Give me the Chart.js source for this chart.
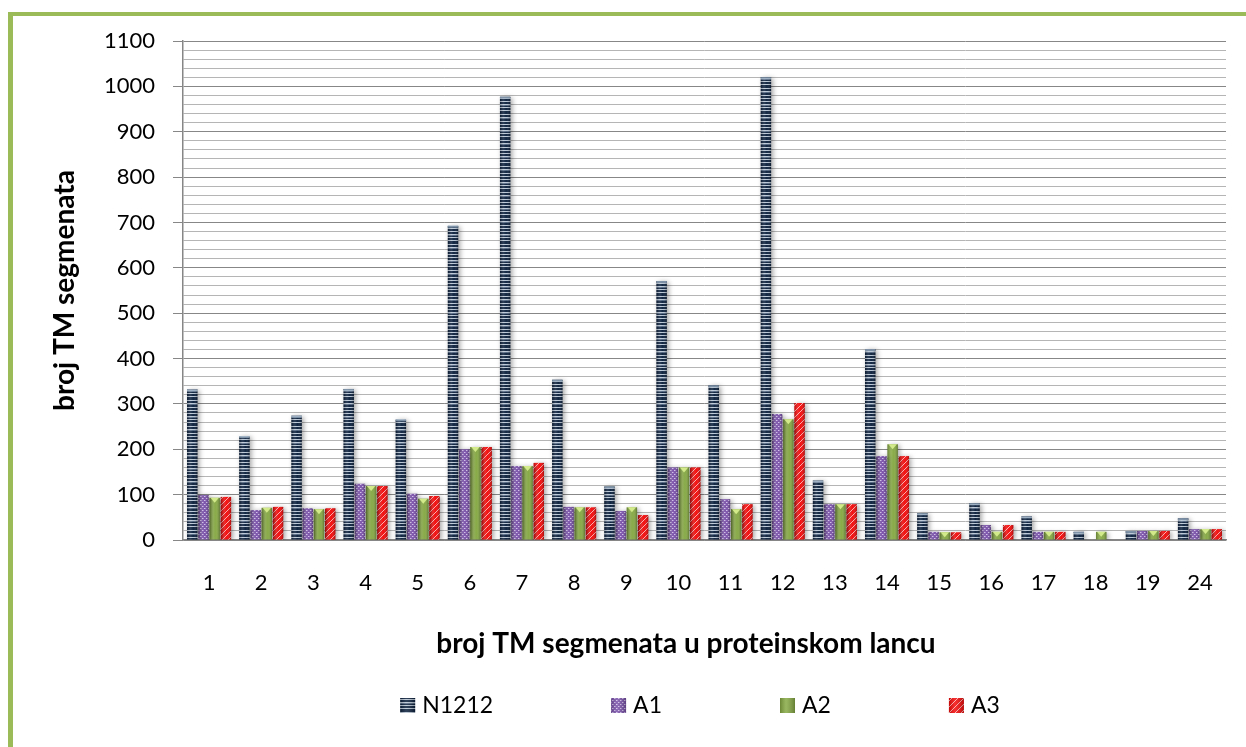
<!DOCTYPE html>
<html>
<head>
<meta charset="utf-8">
<title>broj TM segmenata</title>
<script src="https://cdn.jsdelivr.net/npm/chart.js@4/dist/chart.umd.min.js"></script>
<style>
  html, body { margin: 0; padding: 0; background: #fff; overflow: hidden; }
  #wrap { position: relative; width: 1246px; height: 747px; }
  #frame {
    position: absolute; left: 8px; top: 12px; right: -10px; bottom: -10px;
    border-left: 5px solid #9bbb59; border-top: 4px solid #9bbb59;
  }
  #chart { position: absolute; left: 0; top: 0; }
</style>
</head>
<body>
<div id="wrap">
  <div id="frame"></div>
  <canvas id="chart" width="1246" height="747"></canvas>
</div>
<script>
const categories = ['1', '2', '3', '4', '5', '6', '7', '8', '9', '10', '11', '12', '13', '14', '15', '16', '17', '18', '19', '24'];
const seriesNames = ['N1212', 'A1', 'A2', 'A3'];
const n1212 = [332, 229, 274, 333, 266, 693, 977, 353, 118, 571, 341, 1020, 131, 421, 59, 81, 52, 18, 20, 48];
const a1 = [99, 66, 70, 124, 102, 200, 163, 73, 64, 160, 90, 278, 79, 185, 18, 33, 18, 0, 20, 24];
const a2 = [93, 71, 68, 119, 91, 205, 163, 72, 72, 160, 68, 266, 79, 211, 17, 18, 18, 18, 20, 24];
const a3 = [95, 73, 70, 119, 97, 205, 170, 72, 55, 160, 79, 302, 79, 185, 17, 33, 18, 0, 20, 24];
const yTicks = [0, 100, 200, 300, 400, 500, 600, 700, 800, 900, 1000, 1100];

const yTitle = 'broj TM segmenata';
const xTitle = 'broj TM segmenata u proteinskom lancu';
const FONT = 'Lato, "Open Sans", sans-serif';

// small canvas tiles used as bar fills
function tile(w, h, draw) {
  const c = document.createElement('canvas');
  c.width = w; c.height = h;
  const g = c.getContext('2d');
  draw(g);
  return g.createPattern(c, 'repeat');
}

const stripeFill = tile(8, 26, g => {
  g.fillStyle = '#0a1f3c';
  g.fillRect(0, 0, 8, 26);
  g.fillStyle = '#b9c6d5';
  [0, 3, 6, 10, 13, 17, 20, 23].forEach(r => g.fillRect(0, r, 8, 1));
  g.fillStyle = 'rgba(110,130,155,0.7)';
  [1, 14].forEach(r => g.fillRect(0, r, 8, 1));
});

const checkFill = tile(4, 4, g => {
  g.fillStyle = '#7b52ab';
  g.fillRect(0, 0, 4, 4);
  g.fillStyle = '#d2c0ea';
  g.fillRect(0, 0, 1, 1);
  g.fillRect(2, 2, 1, 1);
  g.fillStyle = '#a486cc';
  g.fillRect(1, 0, 1, 1);
  g.fillRect(3, 2, 1, 1);
});

const greenFill = '#86a943';

const hatchFill = tile(6, 6, g => {
  g.fillStyle = '#f50a0a';
  g.fillRect(0, 0, 6, 6);
  g.strokeStyle = 'rgba(255,190,190,0.9)';
  g.lineWidth = 1;
  g.beginPath();
  g.moveTo(0, 6); g.lineTo(6, 0);
  g.stroke();
});

const fills = [stripeFill, checkFill, greenFill, hatchFill];

// soft shadow behind the bars, then a rounded shading over them
const barLook = {
  id: 'barLook',
  beforeDatasetsDraw(chart) {
    const c = chart.ctx;
    c.save();
    c.shadowColor = 'rgba(0,0,0,0.35)';
    c.shadowBlur = 5;
    c.shadowOffsetX = 2;
    c.shadowOffsetY = 1;
  },
  afterDatasetsDraw(chart) {
    const c = chart.ctx;
    c.restore();
    c.save();
    chart.data.datasets.forEach((ds, di) => {
      chart.getDatasetMeta(di).data.forEach(bar => {
        const { x, y, base, width } = bar.getProps(['x', 'y', 'base', 'width'], true);
        const h = base - y;
        if (h < 1) return;
        const l = x - width / 2;
        const gr = c.createLinearGradient(l, 0, l + width, 0);
        gr.addColorStop(0, 'rgba(0,0,0,0.25)');
        gr.addColorStop(0.35, 'rgba(255,255,255,0.14)');
        gr.addColorStop(0.6, 'rgba(255,255,255,0.03)');
        gr.addColorStop(1, 'rgba(0,0,0,0.3)');
        c.fillStyle = gr;
        c.fillRect(l, y, width, h);
        if (di === 2) {
          c.fillStyle = '#d3ea8a';
          c.beginPath();
          c.moveTo(l + 1, y);
          c.lineTo(l + width - 1, y);
          c.lineTo(x, y + Math.min(5, h));
          c.closePath();
          c.fill();
        } else if (di === 0) {
          c.fillStyle = 'rgba(150,170,190,0.8)';
          c.fillRect(l, y, width, Math.min(2, h));
        }
      });
    });
    c.restore();
  }
};

// axis titles and the legend row under the plot
const captions = {
  id: 'captions',
  afterDraw(chart) {
    const c = chart.ctx;
    const area = chart.chartArea;
    c.save();
    c.fillStyle = '#000';
    c.font = 'bold 28px ' + FONT;
    c.textAlign = 'center';
    c.textBaseline = 'alphabetic';
    c.fillText(xTitle, 686, 653);

    c.save();
    c.translate(74, (area.top + area.bottom) / 2);
    c.rotate(-Math.PI / 2);
    c.fillText(yTitle, 0, 0);
    c.restore();

    c.font = '23px ' + FONT;
    c.textAlign = 'left';
    const box = 15, gapText = 7, gapItem = 118;
    const widths = chart.data.datasets.map(ds => box + gapText + c.measureText(ds.label).width);
    const total = widths.reduce((s, w) => s + w, 0) + gapItem * (widths.length - 1);
    let cx = 700 - total / 2;
    chart.data.datasets.forEach((ds, i) => {
      c.fillStyle = ds.backgroundColor;
      c.fillRect(cx, 698, box, box);
      const gr = c.createLinearGradient(cx, 0, cx + box, 0);
      gr.addColorStop(0, 'rgba(0,0,0,0.2)');
      gr.addColorStop(0.4, 'rgba(255,255,255,0.15)');
      gr.addColorStop(1, 'rgba(0,0,0,0.25)');
      c.fillStyle = gr;
      c.fillRect(cx, 698, box, box);
      c.fillStyle = '#000';
      c.fillText(ds.label, cx + box + gapText, 713);
      cx += widths[i] + gapItem;
    });
    c.restore();
  }
};

const seriesData = [n1212, a1, a2, a3];

new Chart(document.getElementById('chart'), {
  type: 'bar',
  data: {
    labels: categories,
    datasets: seriesNames.map((name, i) => ({
      label: name,
      data: seriesData[i],
      backgroundColor: fills[i],
      borderWidth: 0,
      categoryPercentage: 0.86,
      barPercentage: 0.93
    }))
  },
  options: {
    responsive: false,
    animation: false,
    devicePixelRatio: 1,
    layout: { padding: { top: 41, right: 20, left: 0, bottom: 0 } },
    plugins: {
      legend: { display: false },
      tooltip: { enabled: false }
    },
    scales: {
      x: {
        grid: { display: false, drawTicks: false },
        border: { display: true, color: '#868686', width: 1.5 },
        ticks: { color: '#000', font: { family: FONT, size: 22 }, padding: 30, maxRotation: 0 },
        afterFit: s => {
          s.height = 207;
          s.paddingLeft = 0;
          s.paddingRight = 0;
        }
      },
      y: {
        min: 0,
        max: yTicks[yTicks.length - 1],
        ticks: {
          stepSize: 20,
          autoSkip: false,
          maxTicksLimit: 100,
          color: '#000',
          font: { family: FONT, size: 22 },
          padding: 18,
          callback: v => (yTicks.includes(v) ? v : '')
        },
        grid: {
          color: ctx => (ctx.tick && ctx.tick.value % 100 === 0 ? '#878787' : '#b5b5b5'),
          tickColor: ctx => (ctx.tick && ctx.tick.value % 100 === 0 ? '#878787' : 'rgba(0,0,0,0)'),
          tickLength: 10,
          lineWidth: 1
        },
        border: { display: true, color: '#868686', width: 1.5 },
        afterFit: s => { s.width = 183; }
      }
    }
  },
  plugins: [barLook, captions]
});
</script>
</body>
</html>
